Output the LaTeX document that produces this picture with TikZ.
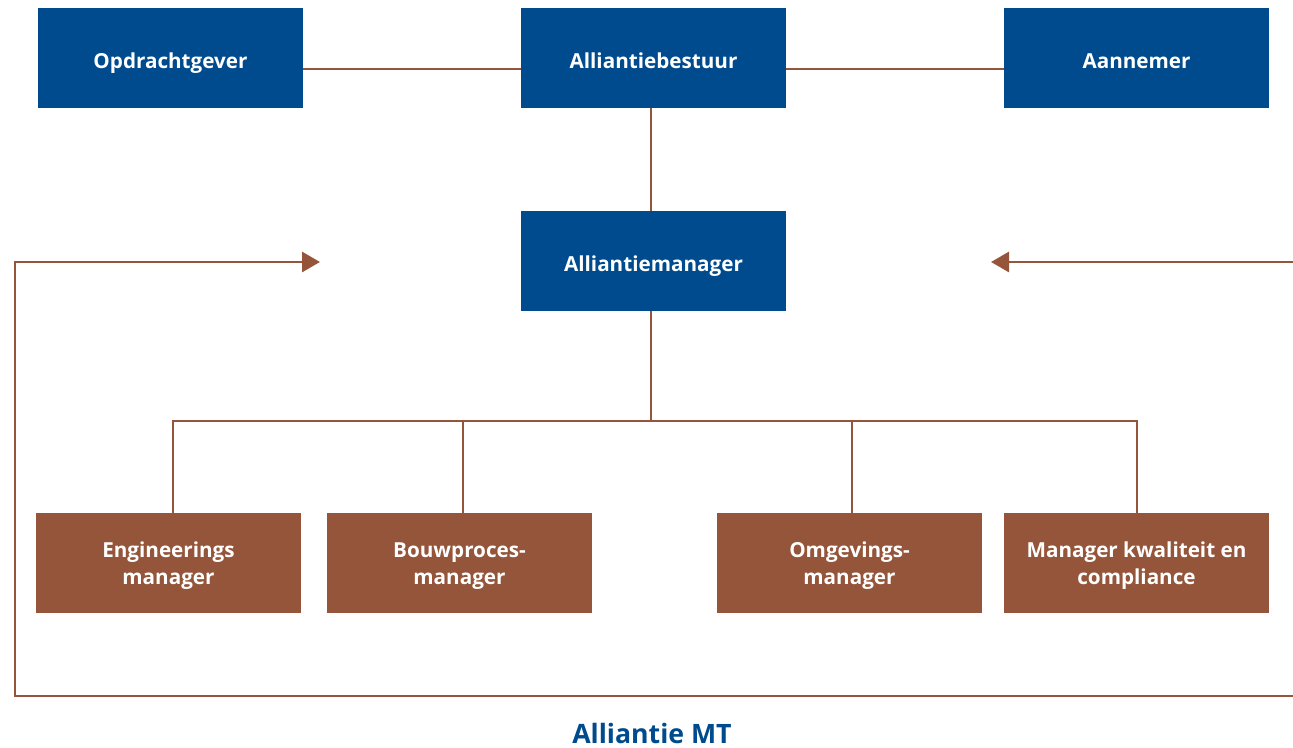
\documentclass[tikz,border=0pt]{standalone}
\usepackage{fontspec}
\setmainfont{Open Sans}
\usetikzlibrary{arrows.meta}
\definecolor{allblue}{RGB}{0,75,141}
\definecolor{allbrown}{RGB}{149,85,58}
% strut that lowers the first line of a two-line label a little
\newcommand{\lowstrut}{\rule{0pt}{15.5pt}}
\begin{document}
\begin{tikzpicture}[x=0.75pt,y=-0.75pt,
  bluebox/.style={fill=allblue,text=white,minimum width=265*0.75pt,minimum height=100*0.75pt,
    inner sep=0pt,font=\bfseries\fontsize{15.5}{20.5}\selectfont,align=center},
  oneline/.style={text height=16pt,text depth=0pt},
  brownbox/.style={bluebox,fill=allbrown},
  link/.style={draw=allbrown,line width=2.2pt},
  tip/.style={-{Triangle[length=13.5pt,width=15pt]}}]
\useasboundingbox (0,0) rectangle (1293,748);
% top row
\node[bluebox,oneline] (opd) at (170.5,58) {Opdrachtgever};
\node[bluebox,oneline] (best) at (653.5,58) {Alliantiebestuur};
\node[bluebox,oneline] (aan) at (1136.5,58) {Aannemer};
% manager
\node[bluebox,oneline] (man) at (653.5,261) {Alliantiemanager};
% bottom row
\node[brownbox] (eng) at (168.5,563) {\lowstrut Engineerings\\manager};
\node[brownbox] (bouw) at (459.5,563) {\lowstrut Bouwproces-\\manager};
\node[brownbox] (omg) at (849.5,563) {\lowstrut Omgevings-\\manager};
\node[brownbox] (kwal) at (1136.5,563) {\lowstrut Manager kwaliteit en\\compliance};
\node[text=allblue,font=\bfseries\fontsize{20}{22}\selectfont] (mt) at (652,733) {Alliantie MT};
% connectors between governing parties
\draw[link] (opd.east |- 0,69) -- (best.west |- 0,69);
\draw[link] (best.east |- 0,69) -- (aan.west |- 0,69);
\draw[link] (651,108) -- (651,211);
% hierarchy below the manager
\coordinate (bus) at (651,421);
\draw[link] (651,311) -- (bus);
\draw[link] (173,513) -- (173,421) -- (1137,421) -- (1137,513);
\draw[link] (463,421) -- (463,513);
\draw[link] (852,421) -- (852,513);
% MT frame with arrows
\coordinate (ltip) at (320,262);
\coordinate (rtip) at (991,262);
\draw[link,tip] (1293,696) -- (15,696) -- (15,262) -- (ltip);
\draw[link,tip] (1293,262) -- (rtip);
\end{tikzpicture}
\end{document}
